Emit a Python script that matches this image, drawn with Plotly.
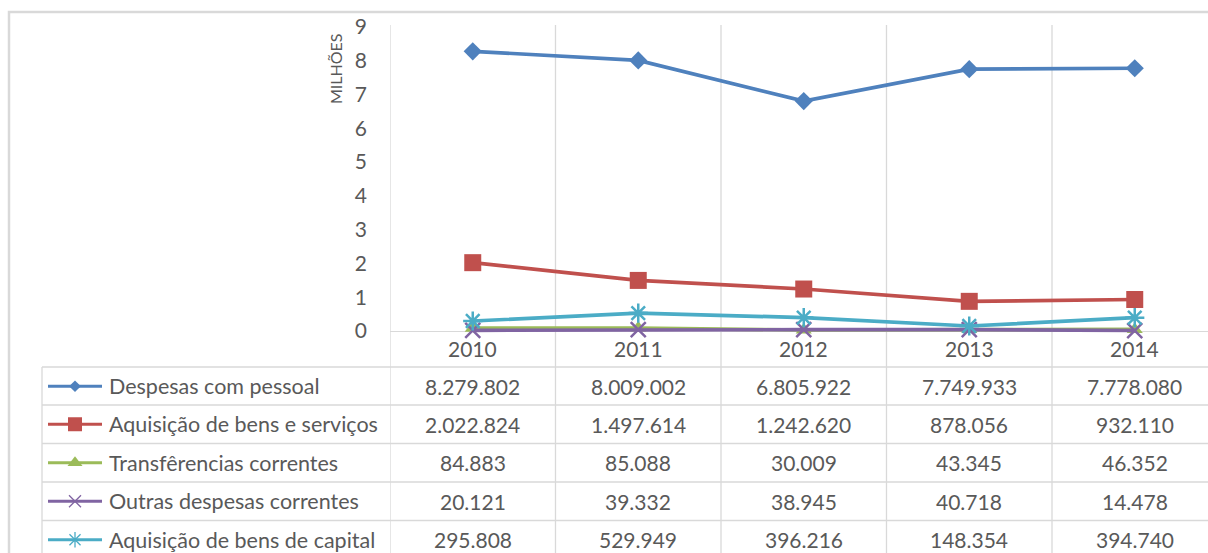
import plotly.graph_objects as go

# ---------------- data ----------------
years = ["2010", "2011", "2012", "2013", "2014"]
series_names = [
    "Despesas com pessoal",
    "Aquisição de bens e serviços",
    "Transfêrencias correntes",
    "Outras despesas correntes",
    "Aquisição de bens de capital",
]
despesas_pessoal = [8279802, 8009002, 6805922, 7749933, 7778080]
aquisicao_bens_servicos = [2022824, 1497614, 1242620, 878056, 932110]
transferencias_correntes = [84883, 85088, 30009, 43345, 46352]
outras_despesas = [20121, 39332, 38945, 40718, 14478]
aquisicao_bens_capital = [295808, 529949, 396216, 148354, 394740]
series_values = [despesas_pessoal, aquisicao_bens_servicos, transferencias_correntes,
                 outras_despesas, aquisicao_bens_capital]
y_ticks = [0, 1, 2, 3, 4, 5, 6, 7, 8, 9]
unit_label = "MILHÕES"

# ---------------- style ----------------
W, H = 1208, 553
FONT = "Lato"
TXT = "#595959"
GRID = "#D9D9D9"
colors = ["#4F81BD", "#C0504D", "#9BBB59", "#8064A2", "#4BACC6"]
symbols = ["diamond", "square", "triangle-up", "x-thin-open", "asterisk-open"]
msize = [14, 17, 14, 15, 16]
key_msize = [9, 14, 13, 12, 13]


def px(x):
    return x / W


def py(y):
    return 1 - y / H


# plot geometry (pixels)
x_left = 390.0
col_w = 165.5
y_zero = 331.0
unit_px = 33.78
y_lo, y_hi = -0.45, 9.1
dom_bottom = y_zero - y_lo * unit_px
dom_top = y_zero - y_hi * unit_px

table_left = 42
row_tops = [367, 405, 443.5, 482, 520.5]
row_h = 38.5
label_x = 107
key_x0, key_x1 = 48, 102

fig = go.Figure()

# main series
for i, (name, vals) in enumerate(zip(series_names, series_values)):
    marker = dict(symbol=symbols[i], size=msize[i], color=colors[i])
    if symbols[i].endswith("open"):
        marker["line"] = dict(color=colors[i], width=2.5)
    fig.add_trace(go.Scatter(
        x=list(range(len(years))), y=[v / 1e6 for v in vals],
        mode="lines+markers", name=name,
        line=dict(color=colors[i], width=3.7),
        marker=marker, cliponaxis=False, showlegend=False,
        xaxis="x", yaxis="y",
    ))

# legend keys inside the data table
for i, name in enumerate(series_names):
    yc = row_tops[i] + row_h / 2
    fig.add_trace(go.Scatter(
        x=[key_x0, key_x1], y=[yc, yc], mode="lines",
        line=dict(color=colors[i], width=3.2), showlegend=False,
        xaxis="x2", yaxis="y2", hoverinfo="skip",
    ))
    marker = dict(symbol=symbols[i], size=key_msize[i], color=colors[i])
    if symbols[i].endswith("open"):
        marker["line"] = dict(color=colors[i], width=1.3)
    fig.add_trace(go.Scatter(
        x=[(key_x0 + key_x1) / 2], y=[yc], mode="markers",
        marker=marker, showlegend=False, cliponaxis=False,
        xaxis="x2", yaxis="y2", hoverinfo="skip",
    ))

shapes = []
# outer chart border
shapes.append(dict(type="rect", xref="paper", yref="paper",
                   x0=px(9), x1=px(W + 20), y0=py(12), y1=py(H + 20),
                   line=dict(color=GRID, width=2.5), fillcolor="rgba(0,0,0,0)", layer="below"))
# vertical category boundary lines (plot + table)
for k in range(len(years) + 1):
    shapes.append(dict(type="line", xref="x", yref="paper",
                       x0=k - 0.5, x1=k - 0.5, y0=py(25), y1=py(H + 5),
                       line=dict(color=GRID, width=1.3), layer="below"))
# table horizontal lines
for t in row_tops:
    shapes.append(dict(type="line", xref="paper", yref="paper",
                       x0=px(table_left), x1=1.0, y0=py(t), y1=py(t),
                       line=dict(color=GRID, width=1.3), layer="below"))
# table left border
shapes.append(dict(type="line", xref="paper", yref="paper",
                   x0=px(table_left), x1=px(table_left), y0=py(row_tops[0]), y1=py(H + 5),
                   line=dict(color=GRID, width=1.3), layer="below"))

annotations = []
# year labels
for j, yr in enumerate(years):
    annotations.append(dict(x=j, y=py(348), xref="x", yref="paper", text=yr,
                            showarrow=False, font=dict(family=FONT, size=21, color=TXT),
                            xanchor="center", yanchor="middle"))
# table values and labels
for i, (name, vals) in enumerate(zip(series_names, series_values)):
    yc = row_tops[i] + row_h / 2
    annotations.append(dict(x=px(label_x), y=py(yc), xref="paper", yref="paper",
                            text=name, showarrow=False,
                            font=dict(family=FONT, size=21.5, color=TXT),
                            xanchor="left", yanchor="middle"))
    for j, v in enumerate(vals):
        annotations.append(dict(x=j, y=py(yc), xref="x", yref="paper",
                                text=f"{v:,}".replace(",", "."), showarrow=False,
                                font=dict(family=FONT, size=21, color=TXT),
                                xanchor="center", yanchor="middle"))
# display-unit label
annotations.append(dict(x=px(336), y=py(69), xref="paper", yref="paper",
                        text=unit_label, textangle=-90, showarrow=False,
                        font=dict(family=FONT, size=16, color=TXT),
                        xanchor="center", yanchor="middle"))

x_hi = (W - x_left) / col_w - 0.5
fig.update_layout(
    width=W, height=H,
    margin=dict(l=0, r=0, t=0, b=0, autoexpand=False),
    paper_bgcolor="white", plot_bgcolor="rgba(0,0,0,0)",
    showlegend=False,
    xaxis=dict(domain=[px(x_left), 1], range=[-0.5, x_hi], showgrid=False,
               zeroline=False, showticklabels=False, showline=False, fixedrange=True,
               automargin=False),
    yaxis=dict(domain=[py(dom_bottom), py(dom_top)], range=[y_lo, y_hi],
               tickvals=y_ticks, ticktext=[str(t) for t in y_ticks],
               showgrid=False, zeroline=True, zerolinecolor=GRID, zerolinewidth=1.3,
               showline=False, ticks="", ticklabelstandoff=22, automargin=False,
               tickfont=dict(family=FONT, size=21, color=TXT), fixedrange=True),
    xaxis2=dict(domain=[0, 1], range=[0, W], visible=False, anchor="y2",
                fixedrange=True, automargin=False),
    yaxis2=dict(domain=[0, 1], range=[H, 0], visible=False, anchor="x2",
                fixedrange=True, automargin=False),
    shapes=shapes,
    annotations=annotations,
)

fig.write_html("out.html")
